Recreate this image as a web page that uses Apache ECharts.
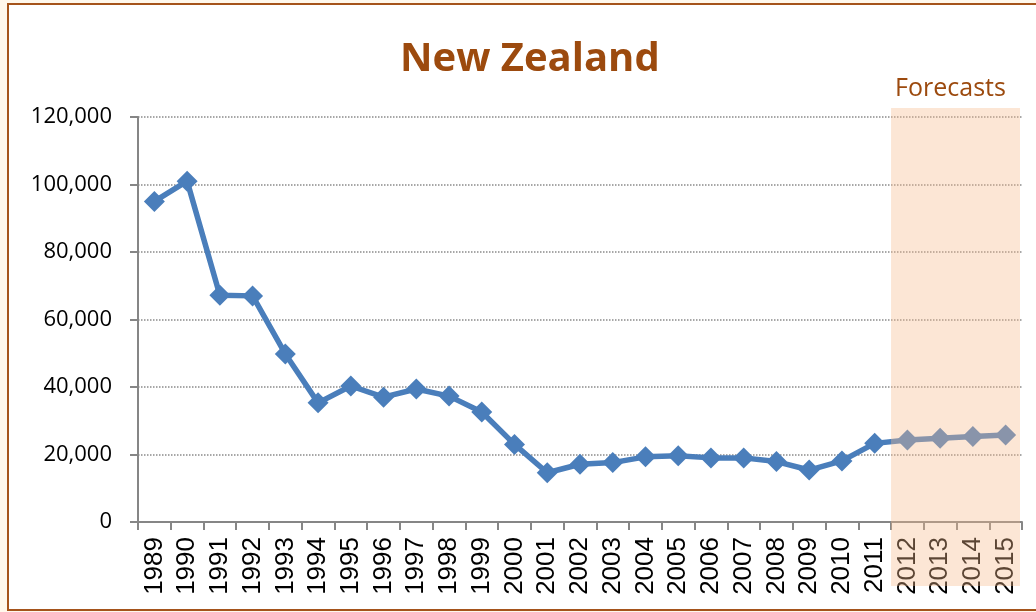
<!DOCTYPE html>
<html>
<head>
<meta charset="utf-8">
<script src="https://cdn.jsdelivr.net/npm/echarts@6/dist/echarts.min.js"></script>
<style>
  html, body { margin: 0; padding: 0; background: #fff8ec; overflow: hidden; }
  #frame {
    position: absolute; left: 7px; top: 3px; width: 1040px; height: 604px;
    border: 2px solid #a5541b; background: #fff;
  }
  #chart { position: absolute; left: 0; top: 0; width: 1036px; height: 612px; }
</style>
</head>
<body>
<div id="frame"></div>
<div id="chart"></div>
<script>
// 年份
const years = ['1989', '1990', '1991', '1992', '1993', '1994', '1995', '1996', '1997',
  '1998', '1999', '2000', '2001', '2002', '2003', '2004', '2005', '2006', '2007',
  '2008', '2009', '2010', '2011', '2012', '2013', '2014', '2015']
// 数值（2012-2015 为预测）
const values = [95000, 101000, 67200, 67000, 49800, 35300, 40300, 37000, 39400,
  37300, 32600, 23000, 14600, 17100, 17600, 19300, 19600, 19000, 19000,
  17900, 15400, 18100, 23300, 24300, 24800, 25300, 25800]
const forecastYears = ['2012', '2015']
const yTicks = [0, 20000, 40000, 60000, 80000, 100000, 120000]

const brown = '#9c4a0e'
const axisGrey = '#868686'
const gridLeft = 138
const gridRight = 14

const chart = echarts.init(document.getElementById('chart'))

chart.setOption({
  animation: false,
  title: {
    text: 'New Zealand',
    left: 395,
    top: 35,
    textStyle: { fontFamily: 'Open Sans', fontSize: 40, fontWeight: 'bold', color: brown }
  },
  grid: { left: gridLeft, right: gridRight, top: 117, bottom: 90, containLabel: false, outerBoundsMode: 'none' },
  xAxis: {
    type: 'category',
    data: years,
    boundaryGap: true,
    axisLine: { lineStyle: { color: axisGrey, width: 2 } },
    axisTick: { show: true, length: 8, lineStyle: { color: axisGrey, width: 2 } },
    axisLabel: {
      rotate: 90, interval: 0, margin: 15,
      fontFamily: 'Liberation Sans', fontSize: 26, color: '#000'
    }
  },
  yAxis: {
    type: 'value',
    min: yTicks[0],
    max: yTicks[yTicks.length - 1],
    interval: yTicks[1] - yTicks[0],
    axisLine: { show: true, lineStyle: { color: axisGrey, width: 2 } },
    axisTick: { show: true, length: 8, lineStyle: { color: axisGrey, width: 2 } },
    axisLabel: {
      margin: 26,
      fontFamily: 'Open Sans', fontSize: 22, color: '#000',
      formatter: v => v.toLocaleString('en-US')
    },
    splitLine: { lineStyle: { color: '#8a8a8a', type: 'dotted', width: 1.5 } }
  },
  series: [{
    type: 'line',
    data: values,
    symbol: 'diamond',
    symbolSize: 21,
    lineStyle: { color: '#4a7ebb', width: 5.5 },
    itemStyle: { color: '#4a7ebb' },
    z: 3
  }]
})

// 预测区阴影，用坐标轴换算位置
function drawForecast() {
  const band = (chart.getWidth() - gridLeft - gridRight) / years.length
  const x0 = chart.convertToPixel({ xAxisIndex: 0 }, forecastYears[0]) - band / 2
  const x1 = chart.convertToPixel({ xAxisIndex: 0 }, forecastYears[1]) + band / 2
  const yTop = chart.convertToPixel({ yAxisIndex: 0 }, yTicks[yTicks.length - 1]) - 9
  chart.setOption({
    graphic: [
      {
        type: 'rect', z: 100,
        shape: { x: x0, y: yTop, width: x1 - x0 - 2, height: 586 - yTop },
        style: { fill: 'rgba(248,188,142,0.37)' }
      },
      {
        type: 'text', z: 100,
        x: (x0 + x1) / 2 - 6, y: yTop - 7,
        style: {
          text: 'Forecasts', fill: brown, fontFamily: 'Open Sans', fontSize: 25,
          align: 'center', verticalAlign: 'bottom'
        }
      }
    ]
  })
}
drawForecast()
</script>
</body>
</html>
